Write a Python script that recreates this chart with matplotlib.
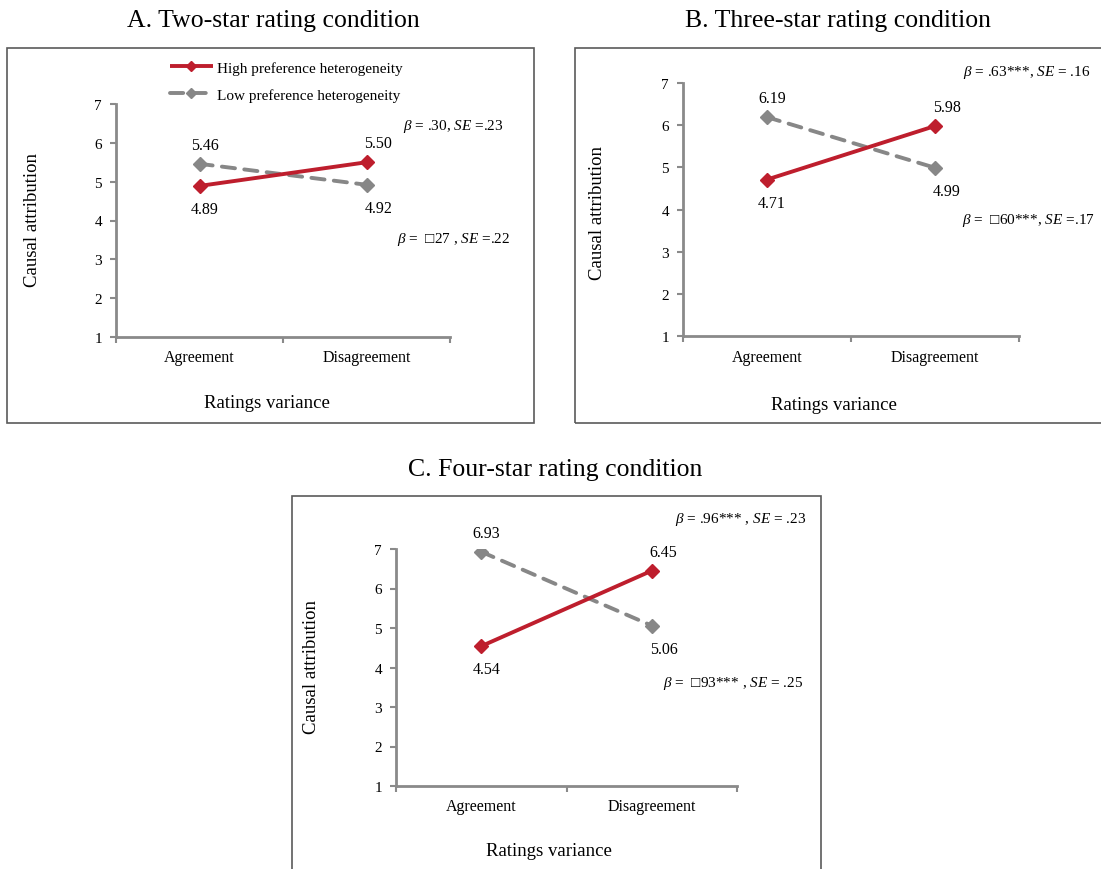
import matplotlib
matplotlib.use("Agg")
import matplotlib.pyplot as plt
from matplotlib.patches import Rectangle

# ---------------- data ----------------
categories = ["Agreement", "Disagreement"]
panel_titles = ["A. Two-star rating condition",
                "B. Three-star rating condition",
                "C. Four-star rating condition"]
series_names = ["High preference heterogeneity", "Low preference heterogeneity"]
high_A = [4.89, 5.50]
low_A = [5.46, 4.92]
high_B = [4.71, 5.98]
low_B = [6.19, 4.99]
high_C = [4.54, 6.45]
low_C = [6.93, 5.06]
value_labels_A = [["4.89", "5.50"], ["5.46", "4.92"]]
value_labels_B = [["4.71", "5.98"], ["6.19", "4.99"]]
value_labels_C = [["4.54", "6.45"], ["6.93", "5.06"]]
stats_A = [r"$\it{\beta}$ = .30, $\it{SE}$ =.23", r"$\it{\beta}$ =  □27 , $\it{SE}$ =.22"]
stats_B = [r"$\it{\beta}$ = .63***, $\it{SE}$ = .16", r"$\it{\beta}$ =  □60***, $\it{SE}$ =.17"]
stats_C = [r"$\it{\beta}$ = .96*** , $\it{SE}$ = .23", r"$\it{\beta}$ =  □93*** , $\it{SE}$ = .25"]
y_ticks = [1, 2, 3, 4, 5, 6, 7]
y_label = "Causal attribution"
x_label = "Ratings variance"

# ---------------- style ----------------
plt.rcParams['font.family'] = ['Liberation Serif', 'DejaVu Serif']
plt.rcParams['mathtext.fontset'] = 'custom'
plt.rcParams['mathtext.rm'] = 'Liberation Serif'
plt.rcParams['mathtext.it'] = 'Liberation Serif:italic'
plt.rcParams['mathtext.fallback'] = 'stix'

RED = '#BE1E2D'
GRAY = '#878787'
AXC = '#8a8a8a'
BOXC = '#5a5a5a'

W, H = 1101, 870
fig = plt.figure(figsize=(W / 100, H / 100), dpi=100)


def px_axes(l, t, r, b):
    return fig.add_axes([l / W, 1 - b / H, (r - l) / W, (b - t) / H])


def box(l, t, r, b):
    fig.add_artist(Rectangle((l / W, 1 - b / H), (r - l) / W, (b - t) / H,
                             transform=fig.transFigure, fill=False,
                             edgecolor=BOXC, linewidth=1.2, clip_on=False))


def panel(ax, high, low, vlabels, stats, stat_pos, ylab_pos, xlab_pos):
    xs = [0.5, 1.5]
    ax.plot(xs, high, color=RED, lw=2.8, marker='D', ms=7.5, mfc=RED, mec=RED,
            solid_capstyle='butt', zorder=3, label=series_names[0])
    ax.plot(xs, low, color=GRAY, lw=2.8, marker='D', ms=7.5, mfc=GRAY, mec=GRAY,
            linestyle=(0, (3.4, 2.4)), dash_capstyle='round', zorder=2,
            label=series_names[1])
    ax.set_xlim(0, 2)
    ax.set_ylim(1, 7)
    ax.set_yticks(y_ticks)
    ax.set_yticklabels([str(v) for v in y_ticks])
    ax.set_xticks([0, 1, 2])
    ax.set_xticklabels([])
    ax.set_xticks(xs, minor=True)
    ax.set_xticklabels(categories, minor=True, fontsize=11.5)
    ax.tick_params(axis='x', which='minor', length=0, pad=9)
    ax.tick_params(axis='x', which='major', length=4, width=1.5, color=AXC,
                   direction='out')
    ax.tick_params(axis='y', length=4, width=1.5, color=AXC, pad=6,
                   labelsize=11)
    for s in ['top', 'right']:
        ax.spines[s].set_visible(False)
    for s in ['left', 'bottom']:
        ax.spines[s].set_color(AXC)
        ax.spines[s].set_linewidth(2)
    ax.patch.set_visible(False)
    # value labels
    for i, x in enumerate(xs):
        dx = 3.6 if i == 0 else 8.5
        vals = [(high[i], vlabels[0][i]), (low[i], vlabels[1][i])]
        top = max(vals, key=lambda v: v[0])
        bot = min(vals, key=lambda v: v[0])
        ax.annotate(top[1], (x, top[0]), xytext=(dx, 13.8),
                    textcoords='offset points', ha='center', va='center',
                    fontsize=11.5, annotation_clip=False)
        ax.annotate(bot[1], (x, bot[0]), xytext=(dx, -16.6),
                    textcoords='offset points', ha='center', va='center',
                    fontsize=11.5, annotation_clip=False)
    for txt, (sx, sy) in zip(stats, stat_pos):
        ax.text(sx, sy, txt, transform=ax.transAxes, ha='left', va='center',
                fontsize=11, clip_on=False)
    ax.text(ylab_pos[0], ylab_pos[1], y_label, transform=ax.transAxes,
            rotation=90, ha='center', va='center', fontsize=13.5)
    ax.text(xlab_pos[0], xlab_pos[1], x_label, transform=ax.transAxes,
            ha='center', va='center', fontsize=13.5)


# boxes
box(7, 49, 534, 424)
box(575, 49, 1110, 424)
box(292, 497, 821, 880)

# titles
fig.text(273 / W, 1 - 21 / H, panel_titles[0], ha='center', va='center', fontsize=18.5)
fig.text(838 / W, 1 - 21 / H, panel_titles[1], ha='center', va='center', fontsize=18.5)
fig.text(555 / W, 1 - 470 / H, panel_titles[2], ha='center', va='center', fontsize=18.5)

axA = px_axes(116, 105, 450, 338)
panel(axA, high_A, low_A, value_labels_A, stats_A,
      [(0.859, 0.906), (0.841, 0.421)], (-0.251, 0.506), (0.452, -0.279))
axA.legend(loc='upper left', bbox_to_anchor=(170 / W, 1 - 62 / H),
           bbox_transform=fig.transFigure, frameon=False, fontsize=11,
           handlelength=2.8, handletextpad=0.3, labelspacing=0.85,
           borderpad=0, borderaxespad=0, markerscale=0.7)

axB = px_axes(683, 84, 1019, 337)
panel(axB, high_B, low_B, value_labels_B, stats_B,
      [(0.833, 1.047), (0.830, 0.462)], (-0.253, 0.49), (0.449, -0.269))

axC = px_axes(396, 550, 737, 787)
panel(axC, high_C, low_C, value_labels_C, stats_C,
      [(0.818, 1.127), (0.783, 0.435)], (-0.249, 0.506), (0.449, -0.274))

fig.savefig("out.png", dpi=100)
